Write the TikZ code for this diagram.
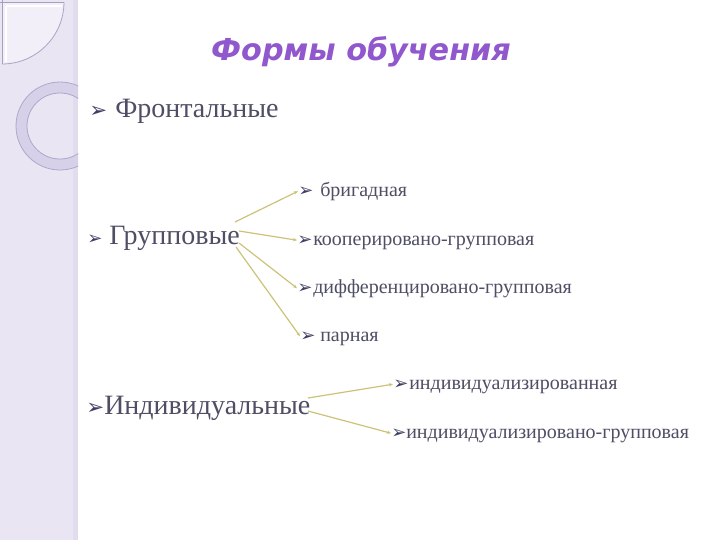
\documentclass[tikz,border=0pt]{standalone}
\usepackage{fontspec}
\setmainfont{Liberation Serif}
\newfontfamily\djv{DejaVu Sans}
\usetikzlibrary{arrows.meta}
\definecolor{side}{RGB}{234,229,243}
\definecolor{sidestripe}{RGB}{226,220,239}
\definecolor{ringfill}{RGB}{214,208,232}
\definecolor{ringline}{RGB}{175,168,205}
\definecolor{txt}{RGB}{78,78,100}
\definecolor{bul}{RGB}{62,62,98}
\definecolor{conn}{RGB}{205,195,120}
\definecolor{ttl}{RGB}{145,88,205}
\tikzset{
  bigtxt/.style={anchor=base west, inner sep=0pt, text=txt, font=\fontsize{21}{23}\selectfont},
  subtxt/.style={anchor=base west, inner sep=0pt, text=txt, font=\fontsize{15}{17}\selectfont},
  bulb/.style={anchor=base west, inner sep=0pt, text=bul, font=\djv\fontsize{16}{18}\selectfont},
  buls/.style={anchor=base west, inner sep=0pt, text=bul, font=\djv\fontsize{13.5}{15}\selectfont},
  link/.style={draw=conn, line width=0.9pt, -{Stealth[length=3pt,width=2.5pt]}},
}
\begin{document}
\begin{tikzpicture}[x=0.75pt,y=-0.75pt]
\useasboundingbox (0,0) rectangle (720,540);
\fill[white] (0,0) rectangle (720,540);
% sidebar
\fill[side] (0,0) rectangle (78,540);
\fill[sidestripe] (73,0) rectangle (78,540);
% top-left quarter shape
\fill[white!40!side] (2,2) -- (64,2) arc[start angle=0,end angle=90,radius=62] -- cycle;
\draw[ringline!80!gray, line width=0.6pt] (2,0) -- (2,64);
\draw[ringline!80!gray, line width=0.6pt] (0,2) -- (64,2);
\draw[ringline!90!gray, line width=0.6pt] (64,2) arc[start angle=0,end angle=90,radius=62];
\draw[white, line width=0.8pt] (6,6) -- (6,62);
\draw[white, line width=0.8pt] (6,6) -- (62,6);
% ring
\begin{scope}
\clip (0,0) rectangle (78,540);
\fill[ringfill, even odd rule] (60,126) circle[radius=44] (60,126) circle[radius=33];
\draw[ringline, line width=0.6pt] (60,126) circle[radius=44];
\draw[ringline, line width=0.6pt] (60,126) circle[radius=33];
\end{scope}
% title
\node[inner sep=0pt, text=ttl, font=\djv\bfseries\itshape\fontsize{22.7}{26}\selectfont] (title) at (361,52) {Формы обучения};
% main items
\node[bulb] (b1) at (89,117) {➢};
\node[bigtxt] (front) at (115,117) {Фронтальные};
\node[buls] (b2) at (87,244) {➢};
\node[bigtxt] (group) at (109,244) {Групповые};
\node[bulb] (b3) at (86,414) {➢};
\node[bigtxt] (indiv) at (104,414) {Индивидуальные};
% sub items
\node[buls] (s1) at (298,196) {➢};
\node[subtxt] (t1) at (320,196) {бригадная};
\node[buls] (s2) at (297,245) {➢};
\node[subtxt] (t2) at (313,245) {кооперировано-групповая};
\node[buls] (s3) at (297,293) {➢};
\node[subtxt] (t3) at (313,293) {дифференцировано-групповая};
\node[buls] (s4) at (300,341) {➢};
\node[subtxt] (t4) at (320,341) {парная};
\node[buls] (s5) at (393,389) {➢};
\node[subtxt] (t5) at (409,389) {индивидуализированная};
\node[buls] (s6) at (391,438) {➢};
\node[subtxt] (t6) at (406,438) {индивидуализировано-групповая};
% connectors
\coordinate (g1) at (235,222);
\coordinate (g2) at (239,231);
\coordinate (g3) at (239,243);
\coordinate (g4) at (236,247);
\draw[link] (g1) -- (s1.west);
\draw[link] (g2) -- (s2.west);
\draw[link] (g3) -- (s3.west);
\draw[link] (g4) -- (s4.west);
\coordinate (i1) at (308,398);
\coordinate (i2) at (308,411);
\draw[link] (i1) -- (s5.west);
\draw[link] (i2) -- (s6.west);
\end{tikzpicture}
\end{document}
